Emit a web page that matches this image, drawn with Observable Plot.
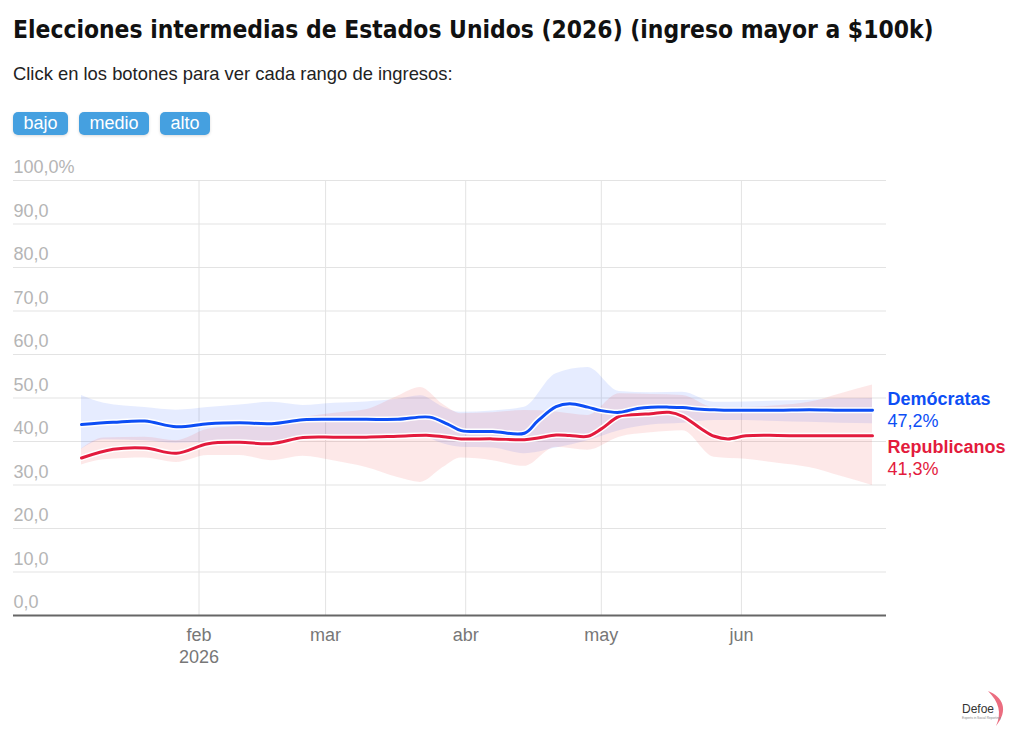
<!DOCTYPE html>
<html><head><meta charset="utf-8">
<script src="https://cdn.jsdelivr.net/npm/d3@7"></script>
<script src="https://cdn.jsdelivr.net/npm/@observablehq/plot@0.6"></script>
<style>
body{margin:0;background:#fff;width:1024px;height:740px;position:relative;overflow:hidden;font-family:"Liberation Sans",Arial,sans-serif}
#title{position:absolute;left:13px;top:15px;font-family:"DejaVu Sans Condensed","DejaVu Sans";font-stretch:condensed;font-weight:bold;font-size:24.4px;line-height:30px;color:#111;white-space:nowrap}
#sub{position:absolute;left:13px;top:63px;font-size:18.4px;line-height:22px;color:#222;white-space:nowrap}
#btns{position:absolute;left:13px;top:112px;display:flex;gap:11px}
.btn{background:#45a0e0;color:#fff;font-size:18px;height:23px;line-height:23px;padding:0 10.5px;border-radius:5px;box-shadow:0 1px 3px rgba(0,0,0,.15)}
#chart{position:absolute;left:0;top:150px}
#logo{position:absolute;left:955px;top:688px}
</style></head><body>
<div id="title">Elecciones intermedias de Estados Unidos (2026) (ingreso mayor a $100k)</div>
<div id="sub">Click en los botones para ver cada rango de ingresos:</div>
<div id="btns"><div class="btn">bajo</div><div class="btn">medio</div><div class="btn">alto</div></div>
<div id="chart"></div>
<div id="logo"><svg width="62" height="44">
<path d="M33,3 C48,9 54,22 41,38 C47,25 44,14 33,3 Z" fill="#e8546a" opacity="0.85"/>
<text x="7" y="25" font-family="Liberation Sans, Arial" font-size="12" fill="#333">Defoe</text>
<text x="7" y="31" font-family="Liberation Sans, Arial" font-size="3.2" fill="#888">Experts in Social Reporting</text>
</svg></div>
<script>
// ---- data ----
const lineDates = ["2026-01-06","2026-01-13","2026-01-20","2026-01-27","2026-02-03","2026-02-10","2026-02-17","2026-02-24","2026-03-03","2026-03-10","2026-03-17","2026-03-24","2026-03-28","2026-03-31","2026-04-07","2026-04-14","2026-04-17","2026-04-21","2026-04-24","2026-04-28","2026-05-01","2026-05-05","2026-05-09","2026-05-12","2026-05-16","2026-05-19","2026-05-23","2026-05-26","2026-05-29","2026-06-02","2026-06-09","2026-06-16","2026-06-23","2026-06-30"];
const demValues = [43.9,44.4,44.7,43.4,44.1,44.3,44.1,45.0,45.1,45.1,45.1,45.6,44.0,42.5,42.3,41.9,44.8,48.0,48.7,47.9,47.1,46.7,47.6,47.9,47.9,47.8,47.4,47.3,47.2,47.2,47.2,47.3,47.2,47.2];
const repValues = [36.2,38.2,38.5,37.3,39.5,39.8,39.5,40.9,41.0,41.0,41.2,41.4,41.0,40.6,40.6,40.4,40.8,41.5,41.4,41.2,42.9,45.8,46.2,46.4,46.7,45.8,43.0,41.2,40.6,41.3,41.4,41.3,41.3,41.3];

const bandDates = ["2026-01-06","2026-01-11","2026-01-20","2026-01-27","2026-02-03","2026-02-10","2026-02-17","2026-02-24","2026-03-03","2026-03-10","2026-03-17","2026-03-22","2026-03-27","2026-03-31","2026-04-07","2026-04-14","2026-04-21","2026-04-28","2026-05-05","2026-05-12","2026-05-19","2026-05-26","2026-06-02","2026-06-09","2026-06-16","2026-06-23","2026-06-30"];
const demHigh = [50.6,48.8,47.8,47.2,47.8,48.4,49.0,48.3,48.8,49.1,49.7,50.5,47.9,46.7,47.0,47.9,55.6,57.0,51.5,51.2,51.3,49.0,49.1,49.3,49.5,49.8,49.9];
const demLow  = [38.2,40.4,40.2,39.6,39.8,39.8,39.5,40.2,40.6,40.8,41.0,41.2,39.5,38.7,38.5,37.2,38.5,40.2,42.5,43.8,44.2,44.8,44.8,44.6,44.4,44.2,44.1];
const repHigh = [38.3,40.8,41.0,40.2,42.8,43.5,44.3,45.5,46.5,47.3,50.4,52.4,48.5,46.4,46.6,47.1,46.8,46.0,51.0,50.8,50.6,47.8,47.8,48.2,49.0,51.0,53.0];
const repLow  = [34.6,35.8,36.2,35.2,36.8,36.8,35.6,36.6,35.5,34.0,31.7,30.6,34.0,36.2,35.6,34.3,38.7,38.0,41.0,42.0,42.5,36.4,35.9,35.0,34.0,32.0,29.9];

const seriesNames = ["Demócratas","Republicanos"];
const seriesLast = ["47,2%","41,3%"];
const seriesColors = ["#0d4ef5","#e31b3d"];

const yTicks = [0,10,20,30,40,50,60,70,80,90,100];
const yTickLabels = ["0,0","10,0","20,0","30,0","40,0","50,0","60,0","70,0","80,0","90,0","100,0%"];
const monthTicks = ["2026-02-01","2026-03-01","2026-04-01","2026-05-01","2026-06-01"];
const monthLabels = ["feb\n2026","mar","abr","may","jun"];

// ---- build tables ----
const P = s => new Date(s + "T00:00:00Z");
const dem = lineDates.map((d,i)=>({date:P(d), value:demValues[i]}));
const rep = lineDates.map((d,i)=>({date:P(d), value:repValues[i]}));
const demBand = bandDates.map((d,i)=>({date:P(d), lo:demLow[i], hi:demHigh[i]}));
const repBand = bandDates.map((d,i)=>({date:P(d), lo:repLow[i], hi:repHigh[i]}));
const ticks = monthTicks.map(P);
const lastDem = dem[dem.length-1], lastRep = rep[rep.length-1];

const chart = Plot.plot({
  width: 1024, height: 525,
  marginLeft: 13, marginRight: 138, marginTop: 30, marginBottom: 60,
  style: {fontFamily: "Liberation Sans, Arial, sans-serif", background: "transparent"},
  x: {type: "utc", domain: [P(lineDates[0]), P(lineDates[lineDates.length-1])], range: [81, 872]},
  y: {domain: [0, 100], axis: null},
  marks: [
    Plot.gridY(yTicks, {stroke: "#e3e3e3", strokeOpacity: 1}),
    Plot.gridX(ticks, {stroke: "#e3e3e3", strokeOpacity: 1}),
    Plot.text(yTicks, {frameAnchor: "left", y: d => d, text: (d,i) => yTickLabels[i], textAnchor: "start", dy: -13, fontSize: 18, fill: "#b5b5b5"}),
    Plot.axisX(ticks, {tickSize: 0, tickPadding: 10, tickFormat: (d,i) => monthLabels[i], fontSize: 18, fill: "#777", lineHeight: 1.22}),
    Plot.areaY(demBand, {x: "date", y1: "lo", y2: "hi", fill: "#3366ff", fillOpacity: 0.12, curve: "monotone-x"}),
    Plot.areaY(repBand, {x: "date", y1: "lo", y2: "hi", fill: "#f04444", fillOpacity: 0.12, curve: "monotone-x"}),
    Plot.ruleY([0], {stroke: "#666", strokeWidth: 2}),
    Plot.line(rep, {x: "date", y: "value", stroke: "white", strokeWidth: 6, curve: "catmull-rom"}),
    Plot.line(rep, {x: "date", y: "value", stroke: seriesColors[1], strokeWidth: 3, curve: "catmull-rom"}),
    Plot.line(dem, {x: "date", y: "value", stroke: "white", strokeWidth: 6, curve: "catmull-rom"}),
    Plot.line(dem, {x: "date", y: "value", stroke: seriesColors[0], strokeWidth: 3, curve: "catmull-rom"}),
    Plot.text([lastDem], {x: "date", y: "value", text: () => seriesNames[0], textAnchor: "start", dx: 15, dy: -11, fontSize: 18, fontWeight: "bold", fill: seriesColors[0]}),
    Plot.text([lastDem], {x: "date", y: "value", text: () => seriesLast[0], textAnchor: "start", dx: 15, dy: 11, fontSize: 18, fill: seriesColors[0]}),
    Plot.text([lastRep], {x: "date", y: "value", text: () => seriesNames[1], textAnchor: "start", dx: 15, dy: 11, fontSize: 18, fontWeight: "bold", fill: seriesColors[1]}),
    Plot.text([lastRep], {x: "date", y: "value", text: () => seriesLast[1], textAnchor: "start", dx: 15, dy: 33, fontSize: 18, fill: seriesColors[1]})
  ]
});
document.getElementById("chart").appendChild(chart);
</script>
</body></html>
